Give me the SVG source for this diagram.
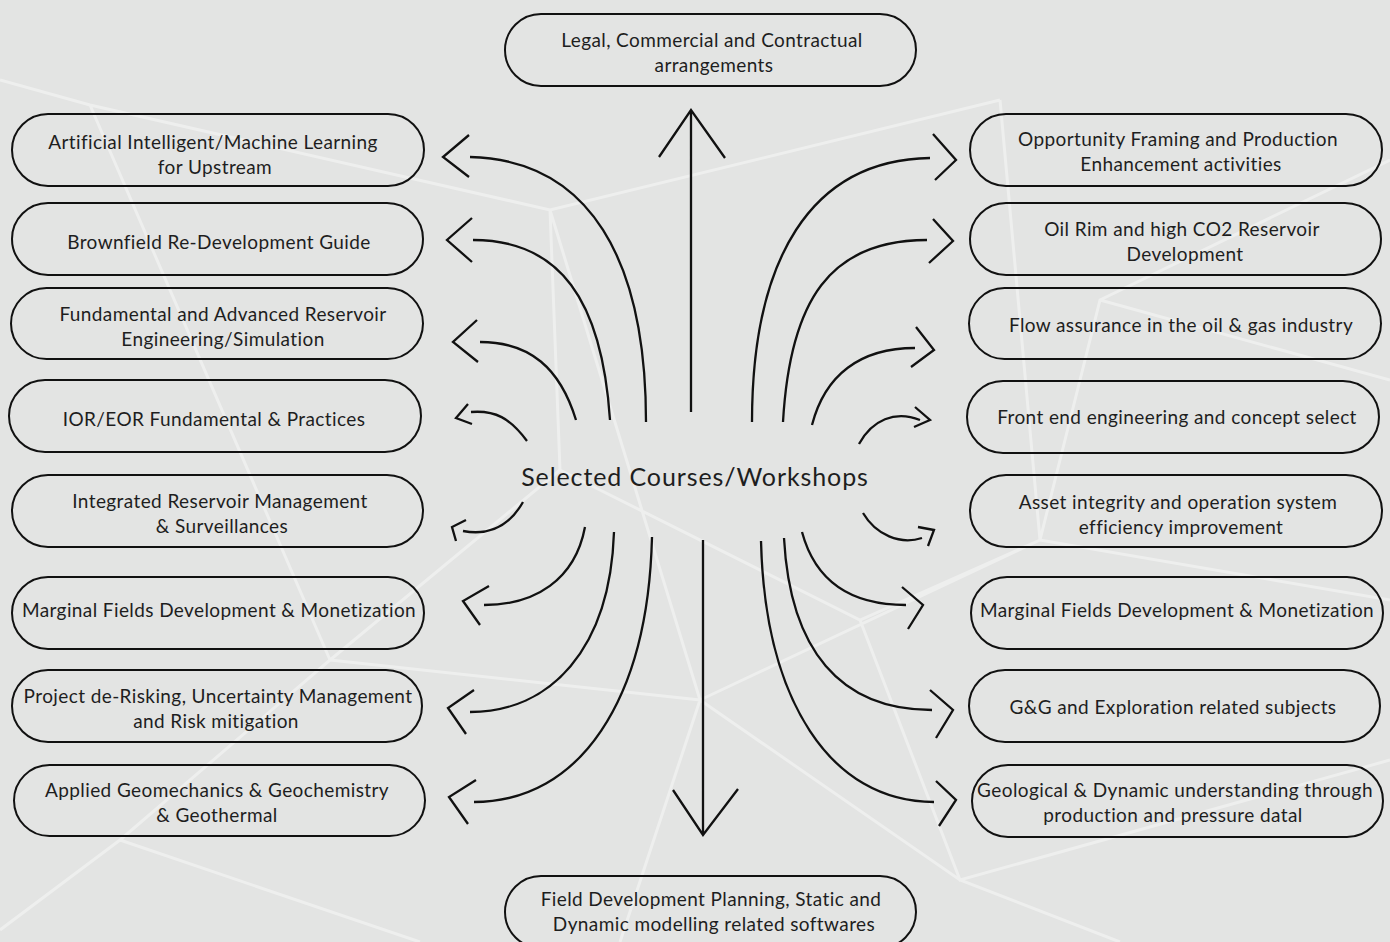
<svg xmlns="http://www.w3.org/2000/svg" width="1390" height="942" viewBox="0 0 1390 942">
<style>
.box{fill:none;stroke:#111;stroke-width:2}
.t{font-family:Lato,"Liberation Sans",sans-serif;font-size:19px;letter-spacing:0.4px;fill:#1e1e1e;text-anchor:middle}
.c{fill:none;stroke:#111;stroke-width:2.3;stroke-linecap:butt;stroke-linejoin:miter}
.bg{stroke:#fff;stroke-opacity:0.4;stroke-width:3;fill:none}
</style>
<rect x="0" y="0" width="1390" height="942" fill="#e3e4e3"/>
<g id="background">
<path class="bg" d="M0,80 L90,105 L550,210 L1000,100 M550,210 L700,700 L1040,540 L1390,600 M550,210 L560,470 L330,660 L120,840 L0,930 M560,470 L860,620 L1040,540 L1100,300 L1390,160 M90,105 L330,660 M330,660 L700,700 L960,880 L1120,942 M1100,300 L1390,380 M700,700 L620,942 M860,620 L960,880 L1390,760 M120,840 L420,942 M1040,540 L1000,100"/>
</g>
<g id="n-legal"><rect class="box" x="505" y="14" width="411" height="72" rx="36"/><text class="t" x="712" y="47">Legal, Commercial and Contractual</text><text class="t" x="714" y="72">arrangements</text></g>
<g id="n-field"><rect class="box" x="505" y="876" width="411" height="72" rx="36"/><text class="t" x="711" y="906">Field Development Planning, Static and</text><text class="t" x="714" y="931">Dynamic modelling related softwares</text></g>
<g id="n-l1"><rect class="box" x="12" y="114" width="412" height="72" rx="36"/><text class="t" x="213" y="149">Artificial Intelligent/Machine Learning</text><text class="t" x="215" y="174">for Upstream</text></g>
<g id="n-l2"><rect class="box" x="12" y="203" width="411" height="72" rx="36"/><text class="t" x="219" y="249">Brownfield Re-Development Guide</text></g>
<g id="n-l3"><rect class="box" x="11" y="288" width="412" height="71" rx="35.5"/><text class="t" x="223" y="321">Fundamental and Advanced Reservoir</text><text class="t" x="223" y="346">Engineering/Simulation</text></g>
<g id="n-l4"><rect class="box" x="9" y="380" width="412" height="72" rx="36"/><text class="t" x="214" y="426">IOR/EOR Fundamental &amp; Practices</text></g>
<g id="n-l5"><rect class="box" x="12" y="475" width="411" height="72" rx="36"/><text class="t" x="220" y="508">Integrated Reservoir Management</text><text class="t" x="222" y="533">&amp; Surveillances</text></g>
<g id="n-l6"><rect class="box" x="12" y="577" width="412" height="72" rx="36"/><text class="t" x="219" y="617">Marginal Fields Development &amp; Monetization</text></g>
<g id="n-l7"><rect class="box" x="12" y="670" width="410" height="72" rx="36"/><text class="t" x="218" y="703">Project de-Risking, Uncertainty Management</text><text class="t" x="216" y="728">and Risk mitigation</text></g>
<g id="n-l8"><rect class="box" x="14" y="765" width="411" height="71" rx="35.5"/><text class="t" x="217" y="797">Applied Geomechanics &amp; Geochemistry</text><text class="t" x="217" y="822">&amp; Geothermal</text></g>
<g id="n-r1"><rect class="box" x="970" y="114" width="412" height="72" rx="36"/><text class="t" x="1178" y="146">Opportunity Framing and Production</text><text class="t" x="1181" y="171">Enhancement activities</text></g>
<g id="n-r2"><rect class="box" x="970" y="203" width="411" height="72" rx="36"/><text class="t" x="1182" y="236">Oil Rim and high CO2 Reservoir</text><text class="t" x="1185" y="261">Development</text></g>
<g id="n-r3"><rect class="box" x="969" y="288" width="412" height="71" rx="35.5"/><text class="t" x="1181" y="332">Flow assurance in the oil &amp; gas industry</text></g>
<g id="n-r4"><rect class="box" x="967" y="381" width="412" height="72" rx="36"/><text class="t" x="1177" y="424">Front end engineering and concept select</text></g>
<g id="n-r5"><rect class="box" x="970" y="475" width="412" height="72" rx="36"/><text class="t" x="1178" y="509">Asset integrity and operation system</text><text class="t" x="1181" y="534">efficiency improvement</text></g>
<g id="n-r6"><rect class="box" x="971" y="577" width="412" height="72" rx="36"/><text class="t" x="1177" y="617">Marginal Fields Development &amp; Monetization</text></g>
<g id="n-r7"><rect class="box" x="969" y="670" width="411" height="72" rx="36"/><text class="t" x="1173" y="714">G&amp;G and Exploration related subjects</text></g>
<g id="n-r8"><rect class="box" x="972" y="765" width="411" height="72" rx="36"/><text class="t" x="1175" y="797">Geological &amp; Dynamic understanding through</text><text class="t" x="1173" y="822">production and pressure datal</text></g>
<g id="n-center"><text x="695" y="486" style="font-family:Lato,'Liberation Sans',sans-serif;font-size:25px;letter-spacing:0.9px;fill:#1e1e1e;text-anchor:middle">Selected Courses/Workshops</text></g>
<g id="connectors">
<path class="c" d="M691,412 L691,112 M659,157 L691,110 L725,158"/>
<path class="c" d="M703,540 L703,833 M673,790 L703,835 L738,789"/>
<path class="c" d="M646,422 C646,260 590,160 470,157 M469,135 L443,157 L469,177"/>
<path class="c" d="M610,420 C602,300 560,240 473,240 M472,218 L447,240 L472,262"/>
<path class="c" d="M576,420 C560,368 530,342 480,342 M477,320 L453,342 L478,362"/>
<path class="c" d="M527,441 C510,418 495,410 471,412 M468,404 L456,418 L472,424"/>
<path class="c" d="M523,502 C510,525 490,536 463,531 M466,520 L452,527 L456,541"/>
<path class="c" d="M585,527 C575,580 535,605 484,605 M489,586 L463,601 L480,625"/>
<path class="c" d="M614,532 C610,650 550,712 470,712 M474,690 L448,708 L466,734"/>
<path class="c" d="M652,537 C648,700 580,802 474,802 M476,780 L449,797 L468,824"/>
<path class="c" d="M752,422 C752,260 810,160 930,158 M933,134 L956,160 L935,180"/>
<path class="c" d="M783,422 C790,300 830,240 927,240 M933,219 L953,241 L929,263"/>
<path class="c" d="M812,425 C825,375 860,348 915,348 M916,327 L934,350 L911,367"/>
<path class="c" d="M859,444 C872,420 895,410 920,420 M915,407 L930,420 L914,427"/>
<path class="c" d="M863,513 C876,535 900,545 922,538 M918,527 L934,530 L928,546"/>
<path class="c" d="M802,532 C815,580 850,605 906,605 M902,587 L923,605 L908,629"/>
<path class="c" d="M784,538 C790,650 840,710 932,710 M930,690 L953,710 L936,738"/>
<path class="c" d="M761,541 C765,700 830,802 934,802 M936,781 L956,800 L939,826"/>
</g>
</svg>
